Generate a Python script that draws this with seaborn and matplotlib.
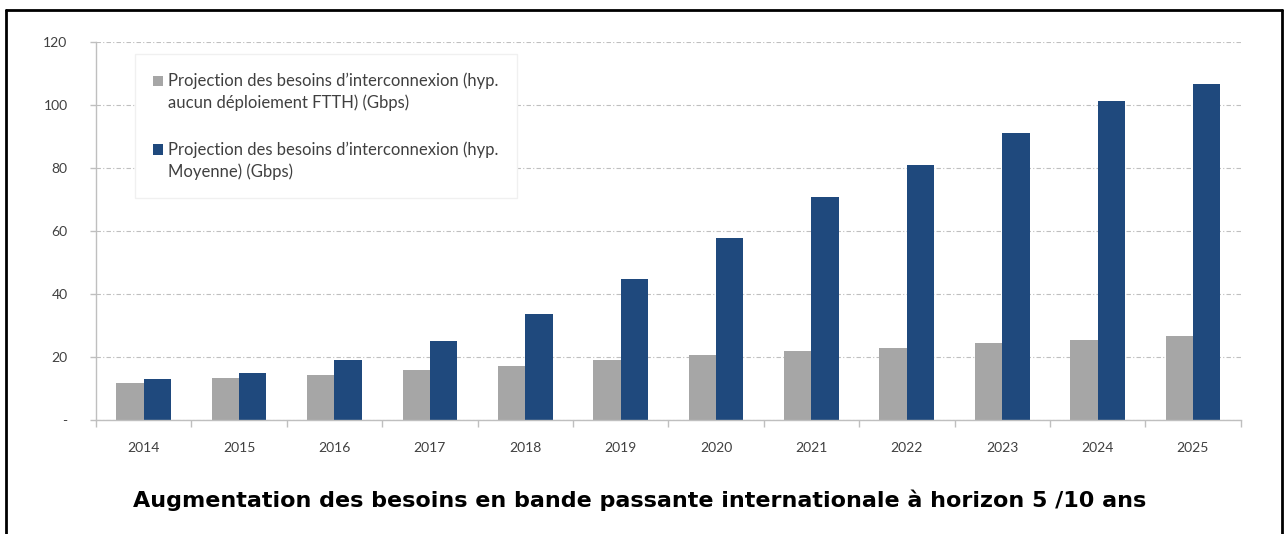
import pandas as pd
import matplotlib
matplotlib.use("Agg")
import matplotlib.pyplot as plt
import seaborn as sns
from matplotlib.lines import Line2D
from matplotlib.patches import Rectangle
from matplotlib.legend_handler import HandlerPatch

# donnees (Gbps)
annees = ["2014", "2015", "2016", "2017", "2018", "2019",
          "2020", "2021", "2022", "2023", "2024", "2025"]
sans_ftth = [11.9, 13.3, 14.4, 15.8, 17.1, 18.9, 20.5, 21.9, 22.9, 24.3, 25.4, 26.6]
moyenne = [12.9, 15.0, 19.1, 25.1, 33.6, 44.7, 57.8, 70.8, 81.0, 91.2, 101.3, 106.7]

serie_1 = "Projection des besoins d\u2019interconnexion (hyp.\naucun d\u00e9ploiement FTTH) (Gbps)"
serie_2 = "Projection des besoins d\u2019interconnexion (hyp.\nMoyenne) (Gbps)"

df = pd.DataFrame({
    "annee": annees * 2,
    "valeur": sans_ftth + moyenne,
    "serie": [serie_1] * len(annees) + [serie_2] * len(annees),
})

sns.set_style("white")
plt.rcParams["font.family"] = ["Lato", "DejaVu Sans"]

fig = plt.figure(figsize=(12.87, 5.34), dpi=100)
ax = fig.add_axes([0.0746, 0.2135, 0.8894, 0.7075])

sns.barplot(data=df, x="annee", y="valeur", hue="serie",
            palette=["#A6A6A6", "#1F497D"], width=0.573, gap=0,
            saturation=1, linewidth=0, ax=ax, legend=True)

ax.set_ylim(0, 120)
ax.set_xlim(-0.5, len(annees) - 0.5)
ax.set_yticks([0, 20, 40, 60, 80, 100, 120])
ax.set_yticklabels(["-", "20", "40", "60", "80", "100", "120"])
ax.set_xlabel("")
ax.set_ylabel("")

# grille pointillee
ax.yaxis.grid(True, color="#BFBFBF", linestyle=(0, (4, 2, 1, 2)), linewidth=0.8)
ax.set_axisbelow(True)

for s in ["top", "right"]:
    ax.spines[s].set_visible(False)
for s in ["left", "bottom"]:
    ax.spines[s].set_color("#BFBFBF")
    ax.spines[s].set_linewidth(1.0)

# ticks entre les categories
ax.set_xticks([i - 0.5 for i in range(len(annees) + 1)], minor=True)
ax.tick_params(axis="x", which="major", bottom=False, labelsize=10,
               labelcolor="#404040", pad=12)
ax.tick_params(axis="x", which="minor", bottom=True, length=5, width=1,
               color="#BFBFBF", direction="out")
ax.tick_params(axis="y", left=True, length=4.5, width=1, color="#BFBFBF",
               direction="out", labelsize=10, labelcolor="#404040", pad=16)


def carre_haut(legend, orig_handle, xdescent, ydescent, width, height, fontsize):
    return Rectangle((-xdescent, -ydescent + 0.68 * fontsize), width, height)


handles, labels = ax.get_legend_handles_labels()
leg = ax.legend(handles, labels, loc="upper left", bbox_to_anchor=(0.034, 0.968),
                borderaxespad=0, fontsize=12, frameon=True, fancybox=False,
                edgecolor="#F0F0F0", framealpha=1, handlelength=0.6,
                handleheight=0.6, handletextpad=0.3, labelspacing=1.8,
                borderpad=1.1,
                handler_map={h: HandlerPatch(patch_func=carre_haut) for h in handles})
for t in leg.get_texts():
    t.set_linespacing(1.4)
    t.set_color("#404040")

fig.text(0.497, 0.063, "Augmentation des besoins en bande passante internationale \u00e0 horizon 5 /10 ans",
         ha="center", va="center", fontsize=16, fontweight="bold",
         family="DejaVu Sans", color="black")

# cadre noir autour du graphique
fig.add_artist(Line2D([0.0045, 0.0045], [0, 0.981], color="black", lw=2, transform=fig.transFigure))
fig.add_artist(Line2D([0.0045, 0.9963], [0.981, 0.981], color="black", lw=2, transform=fig.transFigure))
fig.add_artist(Line2D([0.9963, 0.9963], [0, 0.981], color="black", lw=2, transform=fig.transFigure))

fig.savefig("out.png", dpi=100)
